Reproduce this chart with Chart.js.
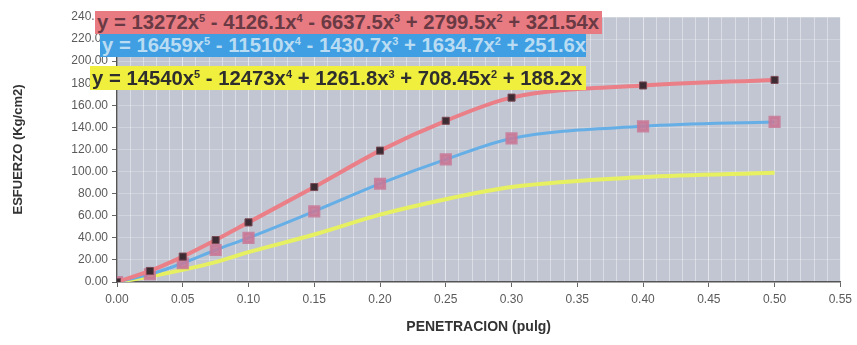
<!DOCTYPE html>
<html>
<head>
<meta charset="utf-8">
<script src="https://cdn.jsdelivr.net/npm/chart.js@4/dist/chart.umd.min.js"></script>
<style>
  html, body { margin: 0; padding: 0; background: #fff; }
  #wrap { position: relative; width: 857px; height: 345px; }
  .eq {
    position: absolute; height: 23px; line-height: 23px;
    font-family: "Liberation Sans", Arial, sans-serif; font-weight: bold; font-size: 20.3px;
    white-space: nowrap; padding-left: 2px; box-sizing: border-box; overflow: hidden;
  }
  .eq sup { font-size: 11px; line-height: 0; vertical-align: 7px; }
  #eqRed { left: 95px; top: 11px; width: 507px; background: #e87a82; color: #6a3a44; }
  #eqBlue { left: 100px; top: 34px; width: 486px; background: #3f9fe2; color: #b9dcf3; }
  #eqYellow { left: 90px; top: 66px; width: 496px; height: 24px; line-height: 24px; background: #f1ef3e; color: #2e2e2e; }
</style>
</head>
<body>
<div id="wrap">
  <canvas id="chart" width="857" height="345"></canvas>
  <div class="eq" id="eqRed">y = 13272x<sup>5</sup> - 4126.1x<sup>4</sup> - 6637.5x<sup>3</sup> + 2799.5x<sup>2</sup> + 321.54x</div>
  <div class="eq" id="eqBlue">y = 16459x<sup>5</sup> - 11510x<sup>4</sup> - 1430.7x<sup>3</sup> + 1634.7x<sup>2</sup> + 251.6x</div>
  <div class="eq" id="eqYellow">y = 14540x<sup>5</sup> - 12473x<sup>4</sup> + 1261.8x<sup>3</sup> + 708.45x<sup>2</sup> + 188.2x</div>
</div>
<script>
// penetration (pulg)
const penetracion = [0, 0.025, 0.05, 0.075, 0.1, 0.15, 0.2, 0.25, 0.3, 0.4, 0.5];
// esfuerzo (Kg/cm2) per sample
const esfuerzoRojo = [0, 10, 23, 38, 54, 86, 119, 146, 167, 178, 183];
const esfuerzoAzul = [0, 7, 17, 29, 40, 64, 89, 111, 130, 141, 145];
const esfuerzoAmarillo = [0, 5, 11, 18, 27, 43, 61, 75, 86, 95, 99];
const yTicks = [0, 20, 40, 60, 80, 100, 120, 140, 160, 180, 200, 220, 240];

const toPoints = vals => penetracion.map((x, i) => ({ x: x, y: vals[i] }));

const plotBg = {
  id: 'plotBg',
  beforeDraw(chart) {
    const { ctx, chartArea: a } = chart;
    ctx.save();
    ctx.fillStyle = '#c1c6d2';
    ctx.fillRect(a.left, a.top, a.right - a.left, a.bottom - a.top);
    ctx.restore();
  }
};

const isMajor = v => Math.abs(Math.round(v * 100) % 5) === 0;

new Chart(document.getElementById('chart').getContext('2d'), {
  type: 'line',
  data: {
    datasets: [
      {
        label: 'rojo',
        data: toPoints(esfuerzoRojo),
        borderColor: '#ea7f88',
        borderWidth: 4,
        pointStyle: 'rect',
        pointRadius: 5,
        pointBackgroundColor: '#3d2b33',
        pointBorderColor: '#7a4a55',
        pointBorderWidth: 1,
        cubicInterpolationMode: 'monotone',
        order: 1
      },
      {
        label: 'azul',
        data: toPoints(esfuerzoAzul),
        borderColor: '#66aee6',
        borderWidth: 3,
        pointStyle: 'rect',
        pointRadius: 6.5,
        pointBackgroundColor: 'rgba(200,120,150,0.85)',
        pointBorderColor: 'rgba(200,120,150,0.85)',
        cubicInterpolationMode: 'monotone',
        order: 2
      },
      {
        label: 'amarillo',
        data: toPoints(esfuerzoAmarillo),
        borderColor: '#e6f060',
        borderWidth: 4,
        pointRadius: 0,
        cubicInterpolationMode: 'monotone',
        order: 3
      }
    ]
  },
  options: {
    responsive: false,
    animation: false,
    layout: { padding: { top: 17, right: 15, bottom: 5, left: 0 } },
    plugins: { legend: { display: false }, tooltip: { enabled: false } },
    scales: {
      x: {
        type: 'linear',
        min: 0,
        max: 0.55,
        afterFit: s => { s.height = 58; },
        afterBuildTicks: s => {
          s.ticks = [];
          for (let i = 0; i <= 55; i++) s.ticks.push({ value: i / 100 });
        },
        ticks: {
          autoSkip: false,
          maxRotation: 0,
          padding: 5,
          color: '#5a5a5a',
          font: { family: 'Liberation Sans', size: 12 },
          callback: v => isMajor(v) ? v.toFixed(2) : ''
        },
        grid: {
          color: c => isMajor(c.tick.value) ? 'rgba(255,255,255,0.55)' : 'rgba(255,255,255,0.4)',
          tickColor: c => isMajor(c.tick.value) ? '#666' : 'rgba(0,0,0,0)',
          tickLength: 5
        },
        border: { color: '#555', width: 1.5 },
        title: {
          display: true,
          text: 'PENETRACION (pulg)',
          color: '#333',
          font: { family: 'Liberation Sans', size: 14, weight: 'bold' }
        }
      },
      y: {
        min: 0,
        max: 240,
        afterFit: s => { s.width = 117; },
        afterBuildTicks: s => { s.ticks = yTicks.map(v => ({ value: v })); },
        ticks: {
          padding: 4,
          color: '#5a5a5a',
          font: { family: 'Liberation Sans', size: 12 },
          callback: v => v.toFixed(2)
        },
        grid: { color: 'rgba(255,255,255,0.25)', tickColor: '#666', tickLength: 5 },
        border: { color: '#555', width: 1.5 },
        title: {
          display: true,
          text: 'ESFUERZO (Kg/cm2)',
          color: '#333',
          padding: { top: 11, bottom: 4 },
          font: { family: 'Liberation Sans', size: 13, weight: 'bold' }
        }
      }
    }
  },
  plugins: [plotBg]
});
</script>
</body>
</html>
